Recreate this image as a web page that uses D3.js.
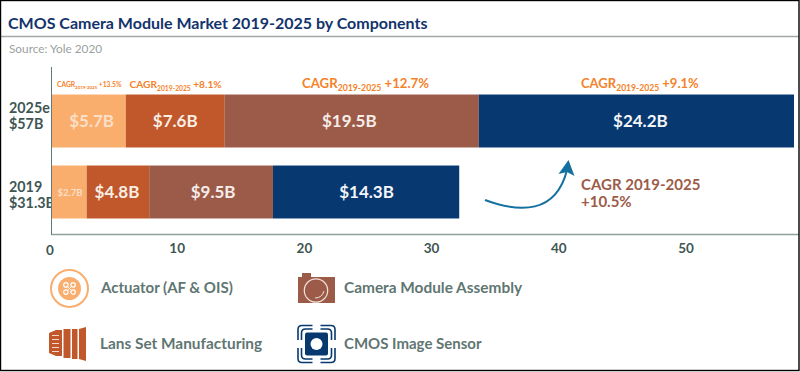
<!DOCTYPE html>
<html>
<head>
<meta charset="utf-8">
<script src="https://cdn.jsdelivr.net/npm/d3@7"></script>
<style>
  html, body { margin: 0; padding: 0; background: #fff; }
  svg { display: block; font-family: Lato, "Open Sans", sans-serif; }
</style>
</head>
<body>
<div id="chart"></div>
<script>
const years = ["2025e", "2019"];
const yearTotals = ["$57B", "$31.3B"];
const components = ["Actuator (AF & OIS)", "Lans Set Manufacturing", "Camera Module Assembly", "CMOS Image Sensor"];
const values2025 = [5.7, 7.6, 19.5, 24.2];
const values2019 = [2.7, 4.8, 9.5, 14.3];
const cagrRates = ["+13.5%", "+8.1%", "+12.7%", "+9.1%"];
const axisTicks = [0, 10, 20, 30, 40, 50];
const colors = ["#f9ae6e", "#c0582b", "#9c5b48", "#07386f"];
const labelColors = ["#fbdfc6", "#fbeee4", "#f6ece8", "#f4f6fa"];

const width = 800, height = 372;

const svg = d3.select("#chart").append("svg")
  .attr("width", width)
  .attr("height", height);

svg.append("rect").attr("width", width).attr("height", height).attr("fill", "#fff");

// 标题
svg.append("text")
  .attr("x", 8).attr("y", 29)
  .attr("fill", "#12336b")
  .attr("font-size", 16)
  .attr("font-weight", 700)
  .text("CMOS Camera Module Market 2019-2025 by Components");

svg.append("line")
  .attr("x1", 1).attr("x2", 799).attr("y1", 36.5).attr("y2", 36.5)
  .attr("stroke", "#a3a6a6").attr("stroke-width", 1.5);

svg.append("text")
  .attr("x", 9).attr("y", 53)
  .attr("fill", "#9aa1a0")
  .attr("font-size", 11.8)
  .text("Source: Yole 2020");

// 比例尺：柱子和刻度文字在原图里不是同一个比例
const x = d3.scaleLinear().domain([0, 57]).range([51.5, 794]);
const xTicks = d3.scaleLinear().domain([0, 50]).range([49.5, 685.5]);
const y = d3.scaleBand().domain(years).range([85.5, 227.5]).paddingInner(0.254).paddingOuter(0.127);

// 年份标签
const yearOffsets = [-8, 0];
const yearLabels = svg.append("g")
  .selectAll("text")
  .data(years)
  .join("text")
  .attr("fill", "#3f5654")
  .attr("font-size", 14.3)
  .attr("font-weight", 700);
yearLabels.append("tspan")
  .attr("x", 9)
  .attr("y", (d, i) => y(d) + y.bandwidth() / 2 + yearOffsets[i])
  .text((d) => d);
yearLabels.append("tspan")
  .attr("x", 9)
  .attr("y", (d, i) => y(d) + y.bandwidth() / 2 + yearOffsets[i] + 16)
  .text((d, i) => yearTotals[i]);

// 堆叠柱
const rows = [
  { year: years[0], values: values2025, labelShift: [3, 0, -2.5, 4] },
  { year: years[1], values: values2019, labelShift: [1, -1, 2, 0.5] },
];
rows.forEach((row) => {
  let start = 0;
  row.values.forEach((v, i) => {
    const g = svg.append("g");
    g.append("rect")
      .attr("x", x(start))
      .attr("y", y(row.year))
      .attr("width", x(start + v) - x(start))
      .attr("height", y.bandwidth())
      .attr("fill", colors[i]);
    g.append("text")
      .attr("x", (x(start) + x(start + v)) / 2 + row.labelShift[i])
      .attr("y", y(row.year) + y.bandwidth() / 2 + (v < 3 ? 3.5 : 6))
      .attr("text-anchor", "middle")
      .attr("fill", labelColors[i])
      .attr("font-size", v < 3 ? 9.5 : 17)
      .attr("font-weight", 700)
      .text("$" + v.toFixed(1) + "B");
    start += v;
  });
});

// 坐标轴
const axis = svg.append("g")
  .attr("transform", "translate(0,234.5)")
  .call(d3.axisBottom(xTicks).tickValues(axisTicks).tickSize(0).tickPadding(9));
axis.select(".domain").remove();
axis.selectAll("text")
  .attr("fill", "#3f5654")
  .attr("font-family", "Lato")
  .attr("font-size", 13.5)
  .attr("font-weight", 700);
axis.selectAll("text").filter((d) => d === 0).attr("y", 11);

svg.append("line")
  .attr("x1", x(0)).attr("x2", 799).attr("y1", 234.5).attr("y2", 234.5)
  .attr("stroke", "#8fa19c").attr("stroke-width", 1.4);
svg.append("line")
  .attr("x1", x(0)).attr("x2", x(0)).attr("y1", 67).attr("y2", 235)
  .attr("stroke", "#5f7a78").attr("stroke-width", 1);

// CAGR 标签
const cagrX = [57, 129.5, 302, 581];
const cagrSize = [6.7, 10.2, 13.2, 13];
cagrRates.forEach((rate, i) => {
  const t = svg.append("text")
    .attr("x", cagrX[i])
    .attr("y", i === 0 ? 87 : 88)
    .attr("fill", "#f5822a")
    .attr("font-size", cagrSize[i])
    .attr("font-weight", 700);
  t.append("tspan").text("CAGR");
  t.append("tspan")
    .attr("dy", cagrSize[i] * 0.25)
    .attr("font-size", cagrSize[i] * 0.66)
    .text("2019-2025");
  t.append("tspan")
    .attr("dy", -cagrSize[i] * 0.25)
    .text(" " + rate);
});

// 增长箭头
const arrow = d3.path();
arrow.moveTo(485, 200);
arrow.bezierCurveTo(520, 213, 556, 214, 567, 170);
svg.append("path")
  .attr("d", arrow.toString())
  .attr("fill", "none")
  .attr("stroke", "#14719f")
  .attr("stroke-width", 2);
svg.append("path")
  .attr("d", "M568.5,160 L574.5,176 L567,172 L558.5,174 Z")
  .attr("fill", "#14719f");

const growth = svg.append("text")
  .attr("fill", "#9c5b48")
  .attr("font-size", 15)
  .attr("font-weight", 700);
growth.append("tspan").attr("x", 581).attr("y", 190).text("CAGR 2019-2025");
growth.append("tspan").attr("x", 581).attr("y", 207).text("+10.5%");

// 图例
const legendPos = [[101, 293], [100, 349], [344, 293], [344, 349]];
components.forEach((name, i) => {
  svg.append("text")
    .attr("x", legendPos[i][0])
    .attr("y", legendPos[i][1])
    .attr("fill", "#5f7672")
    .attr("font-size", i === 1 || i === 2 ? 15.4 : 15)
    .attr("font-weight", 700)
    .text(name);
});

// 图标：执行器
const actuator = svg.append("g").attr("transform", "translate(69.5,288.5)");
actuator.append("circle").attr("r", 18.5).attr("fill", "none").attr("stroke", colors[0]).attr("stroke-width", 2);
actuator.append("circle").attr("r", 11.5).attr("fill", colors[0]);
[[-3.6, -3.6], [3.6, -3.6], [-3.6, 3.6], [3.6, 3.6]].forEach((p) => {
  actuator.append("circle")
    .attr("cx", p[0]).attr("cy", p[1]).attr("r", 2.2)
    .attr("fill", "none").attr("stroke", "#fff").attr("stroke-width", 1.2);
});
actuator.append("path").attr("d", "M-2,-2 L2,2 M2,-2 L-2,2").attr("stroke", "#fff").attr("stroke-width", 1);

// 图标：镜头
const lens = svg.append("g").attr("transform", "translate(49,328)").attr("fill", colors[1]);
lens.append("path").attr("d", "M0,5 L7,2 L13,2 L13,28 L7,28 L0,25 Z");
lens.append("rect").attr("x", 14.5).attr("y", 1).attr("width", 7).attr("height", 29);
lens.append("rect").attr("x", 23).attr("y", 1).attr("width", 5.5).attr("height", 30);
lens.append("path").attr("d", "M30,1 L37,-1 L37,33 L30,31 Z");
[7, 11, 15, 19, 23].forEach((yy) => {
  lens.append("rect").attr("x", 3).attr("y", yy).attr("width", 7).attr("height", 1).attr("fill", "#f4d9c8");
});

// 图标：相机
const cam = svg.append("g").attr("transform", "translate(298,273)");
cam.append("rect").attr("x", 4).attr("y", 0).attr("width", 9).attr("height", 4).attr("fill", colors[2]);
cam.append("rect").attr("x", 0).attr("y", 4).attr("width", 37).attr("height", 26).attr("fill", colors[2]);
cam.append("circle").attr("cx", 18).attr("cy", 17.5).attr("r", 11.7)
  .attr("fill", "none").attr("stroke", "#f3e2da").attr("stroke-width", 1.2);
cam.append("path").attr("d", "M17,25 Q24,25 26,18")
  .attr("fill", "none").attr("stroke", "#f3e2da").attr("stroke-width", 1);

// 图标：传感器
const sensor = svg.append("g").attr("transform", "translate(316.5,344)");
sensor.append("rect").attr("x", -11.5).attr("y", -11.5).attr("width", 23).attr("height", 23).attr("rx", 2).attr("fill", colors[3]);
sensor.append("circle").attr("r", 6).attr("fill", "#fff");
[15, 18.5].forEach((r) => {
  const gapPath = [
    `M${-r},-4 L${-r},${-r + 4} Q${-r},${-r} ${-r + 4},${-r} L-4,${-r}`,
    `M4,${-r} L${r - 4},${-r} Q${r},${-r} ${r},${-r + 4} L${r},-4`,
    `M${r},4 L${r},${r - 4} Q${r},${r} ${r - 4},${r} L4,${r}`,
    `M-4,${r} L${-r + 4},${r} Q${-r},${r} ${-r},${r - 4} L${-r},4`,
  ].join(" ");
  sensor.append("path").attr("d", gapPath).attr("fill", "none").attr("stroke", colors[3]).attr("stroke-width", 1.6);
});

// 外框
svg.append("rect")
  .attr("x", 0.5).attr("y", 0.5).attr("width", 798.5).attr("height", 370)
  .attr("fill", "none").attr("stroke", "#000").attr("stroke-width", 1.4);
</script>
</body>
</html>
